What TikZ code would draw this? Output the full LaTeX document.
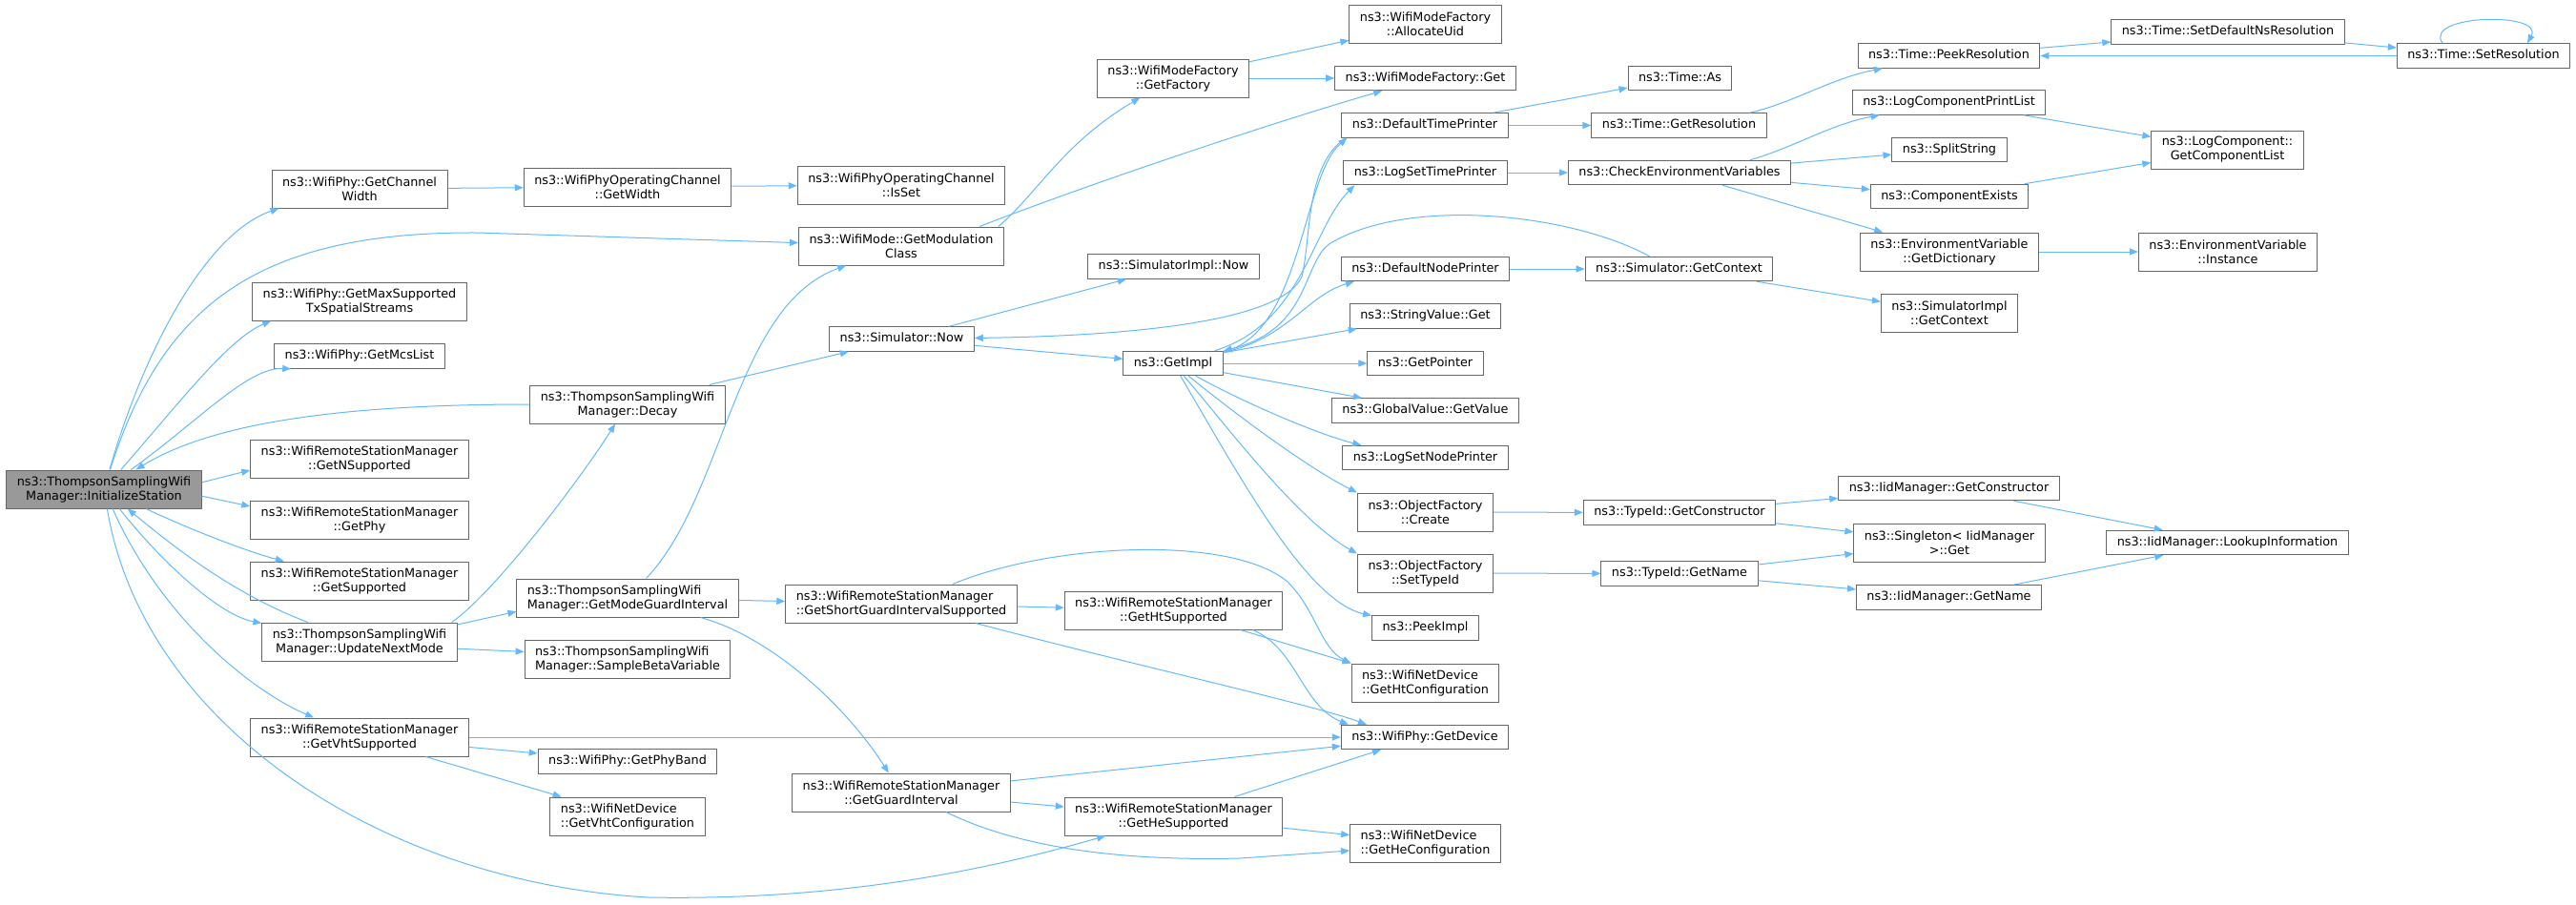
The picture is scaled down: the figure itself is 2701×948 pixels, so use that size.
\documentclass[tikz,border=0pt]{standalone}
\usepackage{fontspec}
\setmainfont{DejaVu Sans}
\usetikzlibrary{arrows.meta}
\definecolor{edgeblue}{HTML}{63B8FF}
\definecolor{boxgray}{HTML}{666666}
\definecolor{maingray}{HTML}{999999}
\begin{document}
\begin{tikzpicture}[x=1pt,y=-1pt,line join=bevel,
	fn1/.style={draw=boxgray,line width=1pt,fill=white,inner xsep=11pt,inner ysep=0pt,minimum height=25.5pt,text height=9.5pt,text depth=3pt,font=\fontsize{12.8}{15}\selectfont},
	fn2/.style={draw=boxgray,line width=1pt,fill=white,inner xsep=11pt,inner ysep=0pt,minimum height=40pt,align=center,font=\fontsize{12.8}{15}\selectfont},
	fnl/.style={fn2,align=left},
	fnmain/.style={fn2,fill=maingray},
	calls/.style={draw=edgeblue,line width=1pt,-{Triangle[length=9pt,width=7pt]}}]
	\useasboundingbox (0,0) rectangle (2701,948);
	\foreach \Coord/\Nom/\Style/\Texte in {(109,513)/init/fnmain/{ns3::ThompsonSamplingWifi\\Manager::InitializeStation},
		(377,198)/chw/fn2/{ns3::WifiPhy::GetChannel\\Width},(377,316)/maxss/fn2/{ns3::WifiPhy::GetMaxSupported\\TxSpatialStreams},
		(377,373.5)/mcs/fn1/{ns3::WifiPhy::GetMcsList},(377,481)/nsup/fn2/{ns3::WifiRemoteStationManager\\::GetNSupported},
		(377,545)/phy/fn2/{ns3::WifiRemoteStationManager\\::GetPhy},(377,609)/supp/fn2/{ns3::WifiRemoteStationManager\\::GetSupported},
		(377,673)/upd/fn2/{ns3::ThompsonSamplingWifi\\Manager::UpdateNextMode},(377,773)/vht/fn2/{ns3::WifiRemoteStationManager\\::GetVhtSupported},
		(658,196)/opwidth/fn2/{ns3::WifiPhyOperatingChannel\\::GetWidth},(658,424)/decay/fn2/{ns3::ThompsonSamplingWifi\\Manager::Decay},
		(658,627)/mgi/fnl/{ns3::ThompsonSamplingWifi\\Manager::GetModeGuardInterval},(658,691)/beta/fnl/{ns3::ThompsonSamplingWifi\\Manager::SampleBetaVariable},
		(658,798.5)/band/fn1/{ns3::WifiPhy::GetPhyBand},(658,856)/vhtcfg/fnl/{ns3::WifiNetDevice\\::GetVhtConfiguration},
		(945,194)/isset/fn2/{ns3::WifiPhyOperatingChannel\\::IsSet},(945,258)/modcls/fn2/{ns3::WifiMode::GetModulation\\Class},
		(945.5,355.5)/snow/fn1/{ns3::Simulator::Now},(945,633)/sgi/fnl/{ns3::WifiRemoteStationManager\\::GetShortGuardIntervalSupported},
		(945,831)/gi/fn2/{ns3::WifiRemoteStationManager\\::GetGuardInterval},(1230,82)/fact/fn2/{ns3::WifiModeFactory\\::GetFactory},
		(1230.5,279.5)/inow/fn1/{ns3::SimulatorImpl::Now},(1230,381)/impl/fn1/{ns3::GetImpl},
		(1230.5,640)/ht/fn2/{ns3::WifiRemoteStationManager\\::GetHtSupported},(1230.5,856)/he/fn2/{ns3::WifiRemoteStationManager\\::GetHeSupported},
		(1494.5,25)/uid/fn2/{ns3::WifiModeFactory\\::AllocateUid},(1494.5,82)/mfget/fn1/{ns3::WifiModeFactory::Get},
		(1494,131.5)/dtp/fn1/{ns3::DefaultTimePrinter},(1494.5,181)/lstp/fn1/{ns3::LogSetTimePrinter},
		(1494.5,282)/dnp/fn1/{ns3::DefaultNodePrinter},(1494.5,331.5)/sval/fn1/{ns3::StringValue::Get},
		(1494.5,381)/gptr/fn1/{ns3::GetPointer},(1494.5,430.5)/gval/fn1/{ns3::GlobalValue::GetValue},
		(1494.5,480)/lsnp/fn1/{ns3::LogSetNodePrinter},(1494.5,537)/ofc/fn2/{ns3::ObjectFactory\\::Create},
		(1494.5,601)/ofs/fn2/{ns3::ObjectFactory\\::SetTypeId},(1494.5,658.5)/peek/fn1/{ns3::PeekImpl},
		(1494.5,716)/htcfg/fnl/{ns3::WifiNetDevice\\::GetHtConfiguration},(1494,773)/dev/fn1/{ns3::WifiPhy::GetDevice},
		(1494.5,884)/hecfg/fnl/{ns3::WifiNetDevice\\::GetHeConfiguration},(1761.5,82)/tas/fn1/{ns3::Time::As},
		(1760.5,131.5)/tres/fn1/{ns3::Time::GetResolution},(1761,181)/cev/fn1/{ns3::CheckEnvironmentVariables},
		(1760.5,282)/sctx/fn1/{ns3::Simulator::GetContext},(1761,537.5)/tctor/fn1/{ns3::TypeId::GetConstructor},
		(1761,601.5)/tname/fn1/{ns3::TypeId::GetName},(2043.5,58.5)/tpeek/fn1/{ns3::Time::PeekResolution},
		(2043.5,107.5)/lcpl/fn1/{ns3::LogComponentPrintList},(2044,157)/split/fn1/{ns3::SplitString},
		(2044,206)/cex/fn1/{ns3::ComponentExists},(2044,264)/dict/fn2/{ns3::EnvironmentVariable\\::GetDictionary},
		(2044,328)/ictx/fn2/{ns3::SimulatorImpl\\::GetContext},(2043.5,512)/ictor/fn1/{ns3::IidManager::GetConstructor},
		(2044,569)/singleton/fn2/{ns3::Singleton< IidManager\\>::Get},(2043.5,626.5)/iname/fn1/{ns3::IidManager::GetName},
		(2336,33.5)/sdef/fn1/{ns3::Time::SetDefaultNsResolution},(2335.5,157)/clist/fn2/{ns3::LogComponent::\\GetComponentList},
		(2336,264)/inst/fn2/{ns3::EnvironmentVariable\\::Instance},(2335.5,569)/lookup/fn1/{ns3::IidManager::LookupInformation},
		(2604,58.5)/tset/fn1/{ns3::Time::SetResolution}}
		\node[\Style] (\Nom) at \Coord {\Texte};
	\draw[calls] (init) .. controls (150,370) and (215,245) .. ([xshift=8pt]chw.south west);%init-chw
	\draw[calls] (init) .. controls (170,320) and (270,243) .. (500,244) -- (modcls);%init-modcls
	\draw[calls] (init) .. controls (190,420) and (240,355) .. ([xshift=20pt]maxss.south west);%init-maxss
	\draw[calls] (init) .. controls (210,440) and (260,385) .. ([xshift=18pt]mcs.south west);%init-mcs
	\draw[calls] (decay) .. controls (350,424) and (220,445) .. (init);%decay-init
	\draw[calls] (init.4) -- (nsup.186);%init-nsup
	\draw[calls] (init.-4) -- (phy.173);%init-phy
	\draw[calls] (init) .. controls (210,560) and (265,580) .. (supp);%init-supp
	\draw[calls] (init) .. controls (170,590) and (230,645) .. (upd);%init-upd
	\draw[calls] (upd) .. controls (250,625) and (190,580) .. (init);%upd-init
	\draw[calls] (init) .. controls (170,650) and (265,725) .. (vht);%init-vht
	\draw[calls] (init) .. controls (150,760) and (400,925) .. (680,941) .. controls (900,945) and (1060,905) .. (he);%init-he
	\draw[calls] ([xshift=-6pt]upd.north east) .. controls (520,620) and (610,500) .. (decay);%upd-decay
	\draw[calls] (upd.10) -- (mgi.187);%upd-mgi
	\draw[calls] (upd.-4) -- (beta.176);%upd-beta
	\draw[calls] ([xshift=-17pt]decay.north east) -- (snow);%decay-snow
	\draw[calls] (mgi) .. controls (760,520) and (770,320) .. (modcls);%mgi-modcls
	\draw[calls] (mgi) -- (sgi);%mgi-sgi
	\draw[calls] (mgi) .. controls (800,665) and (880,730) .. (gi);%mgi-gi
	\draw[calls] ([xshift=-6pt]modcls.north east) .. controls (1090,200) and (1115,150) .. (fact);%modcls-fact
	\draw[calls] ([xshift=-26pt]modcls.north east) .. controls (1150,190) and (1330,130) .. (mfget);%modcls-mfget
	\draw[calls] (fact) -- (uid);%fact-uid
	\draw[calls] (fact) -- (mfget);%fact-mfget
	\draw[calls] (snow) -- (inow);%snow-inow
	\draw[calls] (snow) -- (impl);%snow-impl
	\draw[calls] ([xshift=4pt]dtp.south west) .. controls (1368,175) and (1375,250) .. (1365,290) .. controls (1345,335) and (1200,352) .. (snow);%dtp-snow
	\draw[calls] (impl) .. controls (1365,350) and (1365,185) .. ([xshift=6pt]dtp.south west);%impl-dtp
	\draw[calls] (impl) .. controls (1365,340) and (1375,240) .. ([xshift=12pt]lstp.south west);%impl-lstp
	\draw[calls] (impl) .. controls (1350,355) and (1370,310) .. ([xshift=14pt]dnp.south west);%impl-dnp
	\draw[calls] (impl.12) -- ([xshift=8pt]sval.south west);%impl-sval
	\draw[calls] ([xshift=-31pt]sctx.north) .. controls (1650,225) and (1480,205) .. (1395,255) .. controls (1365,275) and (1375,345) .. (impl);%sctx-impl
	\draw[calls] (impl) -- (gptr);%impl-gptr
	\draw[calls] (impl) -- ([xshift=32pt]gval.north west);%impl-gval
	\draw[calls] (impl) .. controls (1300,420) and (1380,455) .. ([xshift=20pt]lsnp.north west);%impl-lsnp
	\draw[calls] (impl) .. controls (1290,430) and (1370,490) .. (ofc.north west);%impl-ofc
	\draw[calls] (impl) .. controls (1285,445) and (1360,545) .. (ofs.north west);%impl-ofs
	\draw[calls] (impl) .. controls (1300,500) and (1370,630) .. (peek);%impl-peek
	\draw[calls] (dtp) -- (tas);%dtp-tas
	\draw[calls] (dtp) -- (tres);%dtp-tres
	\draw[calls] ([xshift=74pt]tres.north) .. controls (1880,108) and (1920,82) .. (tpeek);%tres-tpeek
	\draw[calls] (tpeek) -- (sdef);%tpeek-sdef
	\draw[calls] (sdef) -- (tset);%sdef-tset
	\draw[calls] (tset) -- (tpeek);%tset-tpeek
	\draw[calls] ([xshift=-43pt]tset.north) .. controls (2540,15) and (2668,12) .. ([xshift=46pt]tset.north);%tset-tset
	\draw[calls] (lstp) -- (cev);%lstp-cev
	\draw[calls] ([xshift=74pt]cev.north) .. controls (1880,155) and (1920,130) .. (lcpl);%cev-lcpl
	\draw[calls] (cev) -- (split);%cev-split
	\draw[calls] (cev) -- (cex);%cev-cex
	\draw[calls] (cev) -- (dict);%cev-dict
	\draw[calls] (lcpl) -- (clist);%lcpl-clist
	\draw[calls] (cex) -- (clist);%cex-clist
	\draw[calls] (dict) -- (inst);%dict-inst
	\draw[calls] (dnp) -- (sctx);%dnp-sctx
	\draw[calls] (sctx) -- (ictx);%sctx-ictx
	\draw[calls] (ofc) -- (tctor);%ofc-tctor
	\draw[calls] (tctor) -- (ictor);%tctor-ictor
	\draw[calls] (tctor) -- (singleton);%tctor-singleton
	\draw[calls] (ofs) -- (tname);%ofs-tname
	\draw[calls] (tname) -- (singleton);%tname-singleton
	\draw[calls] (tname) -- (iname);%tname-iname
	\draw[calls] (ictor) -- (lookup);%ictor-lookup
	\draw[calls] (iname) -- (lookup);%iname-lookup
	\draw[calls] (chw) -- (opwidth);%chw-opwidth
	\draw[calls] (opwidth) -- (isset);%opwidth-isset
	\draw[calls] (sgi) -- (ht);%sgi-ht
	\draw[calls] (sgi) .. controls (1200,700) and (1380,740) .. ([xshift=27pt]dev.north west);%sgi-dev
	\draw[calls] ([xshift=54pt]sgi.north) .. controls (1100,570) and (1290,560) .. (1350,610) .. controls (1380,640) and (1385,680) .. (htcfg.north west);%sgi-htcfg
	\draw[calls] ([xshift=70pt]ht.south) -- (htcfg.north west);%ht-htcfg
	\draw[calls] ([xshift=83pt]ht.south) .. controls (1360,680) and (1365,740) .. ([xshift=8pt]dev.north west);%ht-dev
	\draw[calls] (vht) -- (dev);%vht-dev
	\draw[calls] (gi) -- (dev);%gi-dev
	\draw[calls] (vht) -- (band);%vht-band
	\draw[calls] (vht) -- (vhtcfg);%vht-vhtcfg
	\draw[calls] (gi) -- (he);%gi-he
	\draw[calls] (he) -- ([xshift=42pt]dev.south west);%he-dev
	\draw[calls] (he) -- (hecfg);%he-hecfg
	\draw[calls] ([xshift=47pt]gi.south) .. controls (1070,890) and (1180,903) .. (1300,900) -- ([yshift=-8pt]hecfg.west);%gi-hecfg
\end{tikzpicture}
\end{document}
